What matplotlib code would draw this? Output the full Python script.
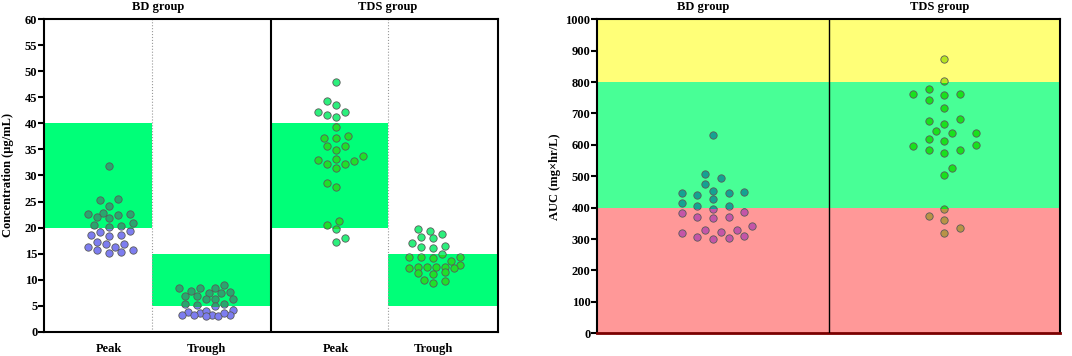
# Peak/trough concentrations and AUC by group, swarm-style scatter over target bands
import numpy as np
import matplotlib.pyplot as plt
from matplotlib.patches import Rectangle

plt.rcParams['font.family'] = ['Liberation Serif', 'DejaVu Serif']
plt.rcParams['font.weight'] = 'bold'
plt.rcParams['axes.labelweight'] = 'bold'

# ---- data ----
categories = ['Peak', 'Trough', 'Peak', 'Trough']
groups = ['BD group', 'TDS group']

bd_peak = [31.8, 25.3, 25.4, 24.2, 22.6, 22.7, 22.4, 22.6, 22.0, 21.8, 20.9, 20.3, 20.2, 20.5,
           19.2, 19.4, 18.6, 18.4, 18.6, 17.3, 16.8, 16.9, 16.3, 16.3, 15.6, 15.6, 15.3, 15.2]
bd_trough = [9.0, 8.3, 8.4, 8.3, 7.9, 7.6, 7.5, 7.5, 6.9, 6.9, 6.2, 6.2, 6.2, 5.3, 5.4, 4.9, 5.1,
             3.3, 4.2, 3.5, 3.9, 3.1, 3.8, 3.2, 3.2, 3.1, 3.3, 3.5]
tds_peak = [47.9, 44.3, 43.6, 42.2, 41.7, 41.2, 42.2, 39.4, 37.2, 37.2, 37.5, 35.7, 34.8, 35.7,
            32.8, 33.2, 31.5, 32.3, 32.3, 33.7, 33.0, 27.7, 28.6, 21.3, 19.8, 20.4, 17.2, 17.9]
tds_trough = [19.4, 19.7, 17.9, 18.1, 18.7, 16.1, 16.3, 17.1, 16.5, 14.9, 14.3, 14.4, 14.1, 13.6,
              14.4, 12.5, 12.5, 12.4, 12.8, 12.3, 12.3, 12.5, 11.1, 11.2, 11.4, 9.4, 9.7, 9.9]

peak_range = (20, 40)      # target peak concentration
trough_range = (5, 15)     # target trough concentration

auc_bd = [630, 506, 493, 452, 450, 448, 446, 476, 442, 428, 406, 406, 415, 397, 384, 368, 369,
          369, 386, 330, 321, 330, 320, 342, 302, 306, 300, 310]
auc_tds = [872, 805, 758, 762, 777, 763, 742, 719, 684, 675, 667, 638, 643, 638, 600, 596, 612,
           619, 585, 575, 584, 527, 503, 396, 361, 372, 336, 320]
auc_bands = [(0, 400), (400, 800), (800, 1000)]


def swarm(ax, x0, ys, step, sx, sy, max_half):
    """greedy swarm in pixel space; when the width cap is hit, take the least-overlapping slot"""
    pts = ax.transData.transform(np.column_stack([np.full(len(ys), x0), ys]))
    kmax = int(max_half // step)
    placed, offs = [], np.zeros(len(ys))
    total = 0.0
    for i in np.argsort(ys):
        cx, cy = pts[i]
        ks = sorted(range(-kmax, kmax + 1), key=lambda k: (abs(k), -k if total <= 0 else k))
        best, best_d = ks[0], -1.0
        for k in ks:
            px = cx + k * step
            d = min([np.hypot((px - qx) / sx, (cy - qy) / sy) for qx, qy in placed] or [9.0])
            if d >= 1:
                best = k
                break
            if d > best_d + 0.05:
                best, best_d = k, d
        px = cx + best * step
        placed.append((px, cy))
        offs[i] = px
        total += best
    inv = ax.transData.inverted()
    return inv.transform(np.column_stack([offs, ys]))[:, 0]


def banded_scatter(ax, xs, ys, x_lo, x_hi, regions):
    # one scatter per y-region, clipped so markers change colour at band edges
    for lo, hi, col in regions:
        sc = ax.scatter(xs, ys, s=28, c=col, edgecolors='#5a5a5a', linewidths=0.6, zorder=3)
        sc.set_clip_path(Rectangle((x_lo, lo), x_hi - x_lo, hi - lo, transform=ax.transData))


fig = plt.figure(figsize=(10.72, 3.56), dpi=100)

# ---------- left panel: concentration ----------
ax1 = fig.add_axes([0.0413, 0.0683, 0.423, 0.8775])
ax1.set_xlim(0, 4)
ax1.set_ylim(0, 60)
bounds = [0, 0.95, 2, 3.03, 4]
centers = [0.57, 1.43, 2.57, 3.43]
series = [bd_peak, bd_trough, tds_peak, tds_trough]
ranges = [peak_range, trough_range, peak_range, trough_range]
white_cols = ['#7d7df0', '#7d7df0', '#2cef7c', '#2cef7c']
band_cols = ['#2aa66e', '#2aa66e', '#1ee02a', '#1ee02a']

for i in range(4):
    lo, hi = ranges[i]
    x_lo, x_hi = bounds[i], bounds[i + 1]
    ax1.fill_between([x_lo, x_hi], lo, hi, color='#00ff78', lw=0, zorder=1)
    xs = swarm(ax1, centers[i], series[i], step=3.0, sx=9.4, sy=8.2, max_half=29)
    banded_scatter(ax1, xs, series[i], x_lo, x_hi,
                   [(0, lo, white_cols[i]), (lo, hi, band_cols[i]), (hi, 60, white_cols[i])])

ax1.axvline(2, color='black', lw=1.5, zorder=4)
for xv in (0.95, 3.03):
    ax1.axvline(xv, color='#999999', lw=0.8, ls=':', zorder=2)

ax1.set_yticks(np.arange(0, 61, 5))
ax1.set_xticks(centers)
ax1.set_xticklabels(categories, fontsize=9, fontweight='bold')
ax1.tick_params(axis='x', length=0, pad=8)
ax1.tick_params(axis='y', direction='out', length=4, width=1.5, labelsize=9, pad=1)
for sp in ax1.spines.values():
    sp.set_linewidth(1.5)
ax1.set_ylabel('Concentration (μg/mL)', fontsize=9)
ax1.yaxis.set_label_coords(-0.066, 0.5)
ax1.text(1.0, 1.02, groups[0], transform=ax1.get_xaxis_transform(), ha='center', va='bottom', fontsize=9)
ax1.text(3.03, 1.02, groups[1], transform=ax1.get_xaxis_transform(), ha='center', va='bottom', fontsize=9)

# ---------- right panel: AUC ----------
ax2 = fig.add_axes([0.5572, 0.0638, 0.4316, 0.882])
ax2.set_xlim(0, 2)
ax2.set_ylim(0, 1000)
auc_band_cols = ['#ff9898', '#48ff96', '#ffff78']
for (lo, hi), col in zip(auc_bands, auc_band_cols):
    ax2.axhspan(lo, hi, color=col, lw=0, zorder=1)

bd_cols = ['#c455a8', '#14a392', '#14a392']
tds_cols = ['#b89346', '#18e21c', '#b5e620']
for j, (vals, cols) in enumerate([(auc_bd, bd_cols), (auc_tds, tds_cols)]):
    xs = swarm(ax2, j + 0.5, vals, step=7.85, sx=15.7, sy=8.5, max_half=40)
    banded_scatter(ax2, xs, vals, j, j + 1, [(lo, hi, c) for (lo, hi), c in zip(auc_bands, cols)])

ax2.axvline(1, color='black', lw=1.0, zorder=4)
ax2.set_yticks(np.arange(0, 1001, 100))
ax2.set_xticks([])
ax2.tick_params(axis='y', direction='out', length=4, width=1.5, labelsize=9, pad=1)
for sp in ax2.spines.values():
    sp.set_linewidth(1.5)
ax2.spines['bottom'].set_color('#7a0000')
ax2.spines['bottom'].set_linewidth(2)
ax2.set_ylabel('AUC (mg×hr/L)', fontsize=9, labelpad=3)
ax2.text(0.457, 1.02, groups[0], transform=ax2.get_xaxis_transform(), ha='center', va='bottom', fontsize=9)
ax2.text(1.48, 1.02, groups[1], transform=ax2.get_xaxis_transform(), ha='center', va='bottom', fontsize=9)

fig.savefig('out.png', dpi=100)
